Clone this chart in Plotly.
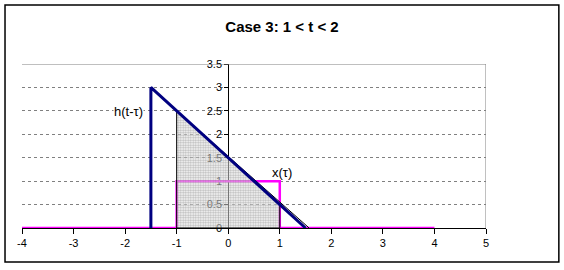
import plotly.graph_objects as go

# ---- data ----
x_tau = [-4, -1, -1, 1, 1, 4]
x_val = [0, 0, 1, 1, 0, 0]

h_tau = [-1.5, -1.5, 1.5]
h_val = [0, 3, 0]

overlap_tau = [-1, -1, 1, 1, -1]
overlap_val = [0, 2.5, 0.5, 0, 0]

edge_tau = [-1, 1.57]
edge_val = [2.5, 0]

x_ticks = [-4, -3, -2, -1, 0, 1, 2, 3, 4, 5]
x_tick_text = ["-4", "-3", "-2", "-1", "0", "1", "2", "3", "4", "5"]
y_ticks = [0, 0.5, 1, 1.5, 2, 2.5, 3, 3.5]
y_tick_text = ["0", "0.5", "1", "1.5", "2", "2.5", "3", "3.5"]

FONT = "Arial, Liberation Sans, sans-serif"

fig = go.Figure()

fig.add_trace(go.Scatter(x=x_tau, y=x_val, mode="lines",
                         line=dict(color="#ff00ff", width=2.5), hoverinfo="skip"))
fig.add_trace(go.Scatter(x=overlap_tau, y=overlap_val, mode="lines", fill="toself",
                         fillcolor="rgba(0,0,0,0)",
                         fillpattern=dict(shape=".", size=2.5, solidity=0.6,
                                          fgcolor="#7a7a7a", bgcolor="rgba(255,255,255,0.45)"),
                         line=dict(color="black", width=1), hoverinfo="skip"))
fig.add_trace(go.Scatter(x=edge_tau, y=edge_val, mode="lines",
                         line=dict(color="black", width=1), hoverinfo="skip"))
fig.add_trace(go.Scatter(x=h_tau, y=h_val, mode="lines",
                         line=dict(color="#000080", width=3), hoverinfo="skip"))

# plot-area border (top and right)
fig.add_shape(type="line", xref="x", yref="y", x0=-4, x1=5, y0=3.5, y1=3.5,
              line=dict(color="#808080", width=1))
fig.add_shape(type="line", xref="x", yref="y", x0=5, x1=5, y0=0, y1=3.5,
              line=dict(color="#808080", width=1))
# outer chart border
fig.add_shape(type="rect", xref="paper", yref="paper",
              x0=-0.0366, x1=1.157, y0=-0.207, y1=1.36,
              line=dict(color="black", width=1.5))

annos = [
    dict(x=-1.93, y=2.48, text="h(t-τ)", size=13, bg="white"),
    dict(x=1.05, y=1.19, text="x(τ)", size=13, bg=None),
    dict(x=-1.5, y=-0.56, text="t-3", size=14, bg=None),
    dict(x=1.5, y=-0.56, text="t", size=14, bg=None),
]
for a in annos:
    fig.add_annotation(x=a["x"], y=a["y"], xref="x", yref="y", text=a["text"],
                       showarrow=False, bgcolor=a["bg"], borderpad=0,
                       font=dict(family=FONT, color="black", size=a["size"]))

fig.update_layout(
    width=564, height=270,
    margin=dict(l=22, r=78, t=64, b=42),
    paper_bgcolor="white", plot_bgcolor="white",
    showlegend=False,
    title=dict(text="<b>Case 3: 1 < t < 2</b>", x=282/564, xanchor="center",
               y=1 - 27/270, yanchor="middle", yref="container",
               font=dict(family=FONT, size=15, color="black")),
    font=dict(family=FONT, color="black"),
    xaxis=dict(range=[-4, 5], tickvals=x_ticks, ticktext=x_tick_text,
               showgrid=False, zeroline=False,
               showline=True, linecolor="black", linewidth=1,
               ticks="outside", ticklen=5, tickcolor="black",
               tickfont=dict(size=11, family=FONT, color="black")),
    yaxis=dict(range=[0, 3.5], tickvals=y_ticks, ticktext=y_tick_text,
               anchor="free", position=4/9, layer="below traces",
               showgrid=True, gridcolor="#808080", griddash="3px,3px", gridwidth=1,
               zeroline=False, showline=True, linecolor="black", linewidth=1,
               ticks="outside", ticklen=4, tickcolor="black",
               tickfont=dict(size=11, family=FONT, color="black")),
)

fig.write_html("out.html")
